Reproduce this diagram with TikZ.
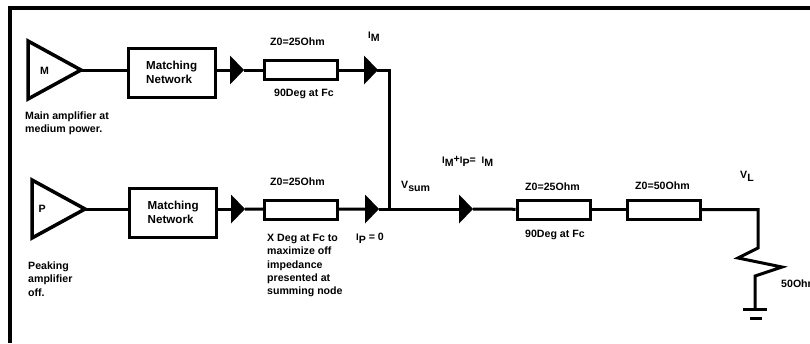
\documentclass[tikz,border=0pt]{standalone}
\usepackage{fontspec}
\setmainfont{Liberation Sans}
\usetikzlibrary{shapes.geometric}

\newcommand{\lowtxt}[1]{\raisebox{-3pt}{\bfseries #1}}
\newcommand{\smalli}{{\fontsize{9.5}{10}\selectfont I}}

\tikzset{
  wire/.style={line width=3pt},
  amptri/.style={draw, line width=3.5pt, isosceles triangle, isosceles triangle stretches, inner sep=0pt, outer sep=0pt, anchor=apex, minimum height=53pt, minimum width=58pt},
  headtri/.style={fill=black, isosceles triangle, isosceles triangle stretches, inner sep=0pt, outer sep=0pt, anchor=apex, minimum height=14pt, minimum width=29pt},
  matchbox/.style={draw, line width=3pt, inner sep=0pt, minimum width=87pt, minimum height=49pt},
  linebox/.style={draw, line width=3pt, inner sep=0pt, minimum width=73pt, minimum height=19pt},
  lbl/.style={font=\fontsize{10.6}{13.4}\selectfont\bfseries, inner sep=0pt, anchor=west, align=left},
  bigbl/.style={font=\fontsize{11.6}{14}\selectfont\bfseries, inner sep=0pt, anchor=west, align=left}
}

\begin{document}
\begin{tikzpicture}[x=1pt,y=-1pt]

\useasboundingbox (0,0) rectangle (810,343);

\draw[line width=3.5pt] (10,343) -- (10,8) -- (810,8);

% amplifiers and matching
\node[amptri] (ampM) at (81,70) {};
\node[amptri] (ampP) at (85,209) {};
\node[matchbox] (matchM) at (171.5,72.5) {};
\node[matchbox] (matchP) at (173,212.5) {};

% line sections
\foreach \name/\x/\y in {tlM/301/70,tlP/301/209.5,tlA/553.5/209.5,tlB/663.5/209.5}
  \node[linebox] (\name) at (\x,\y) {};

% current arrows
\foreach \name/\x/\y in {headA/244/70,headB/378/70,headC/245/209,headD/379/209,headE/473/209}
  \node[headtri] (\name) at (\x,\y) {};

\coordinate (topcorner) at (389,70);
\coordinate (sum) at (389,209);
\coordinate (loadtop) at (758,209.5);
\coordinate (zigA) at (758,248);
\coordinate (zigB) at (738,258);
\coordinate (zigC) at (782,267);
\coordinate (zigD) at (755,276);
\coordinate (gnd) at (755,309);
\coordinate (gndAl) at (743,309);
\coordinate (gndAr) at (767,309);
\coordinate (gndBl) at (750,318);
\coordinate (gndBr) at (762,318);

\draw[wire] (ampM.apex) -- (matchM.west |- ampM.apex);
\draw[wire] (matchM.east |- headA.west) -- (headA.west);
\draw[wire] (headA.apex) -- (tlM);
\draw[wire] (tlM) -- (headB.west);
\draw[wire, line cap=rect] (headB.apex) -- (topcorner) -- (sum);
\draw[wire] (ampP.apex) -- (matchP.west |- ampP.apex);
\draw[wire] (matchP.east |- headC.west) -- (headC.west);
\draw[wire] (headC.apex) -- (tlP);
\draw[wire] (tlP) -- (headD.west);
\draw[wire] (headD.apex) -- (headE.west);
\draw[wire] (headE.apex) -- (tlA);
\draw[wire] (tlA) -- (tlB);
\draw[wire, line join=miter] (tlB) -- (loadtop) -- (zigA) -- (zigB) -- (zigC) -- (zigD) -- (gnd);
\draw[wire] (gndAl) -- (gndAr);
\draw[wire] (gndBl) -- (gndBr);

% labels
\node[lbl] (txtM) at (40,71) {M};
\node[lbl] (txtP) at (38.5,208.5) {P};
\node[lbl] (txtMain) at (25,123) {Main amplifier at\\medium power.};
\node[lbl] (txtPeak) at (28,279) {Peaking\\amplifier\\off.};
\node[bigbl] (txtMatchM) at (146,72) {Matching\\Network};
\node[bigbl] (txtMatchP) at (147.5,212) {Matching\\Network};

\foreach \name/\x/\y in {zM/270/42,zP/270/182,zA/525/187,zB/635/186}
  \node[lbl] (\name) at (\x,\y) {\ifnum\x=635 Z0=50Ohm\else Z0=25Ohm\fi};
\node[lbl] (degM) at (274,94) {90Deg at Fc};
\node[lbl] (degA) at (525,235) {90Deg at Fc};
\node[lbl] (degP) at (267,265.5) {X Deg at Fc to\\maximize off\\impedance\\presented at\\summing node};

\node[lbl] (curM) at (368,37) {\smalli\lowtxt{M}};
\node[lbl] (curP) at (356,238) {\smalli\lowtxt{P} = 0};
\node[lbl] (curSum) at (442,161) {\smalli\lowtxt{M}\raisebox{1pt}{+}\smalli\lowtxt{P}= \ \smalli\lowtxt{M}};
\node[lbl] (vSum) at (401,186) {V\lowtxt{sum}};
\node[lbl] (vLoad) at (740,176) {V\lowtxt{L}};
\node[lbl] (txtLoad) at (781,284) {50Ohm};

\end{tikzpicture}
\end{document}
